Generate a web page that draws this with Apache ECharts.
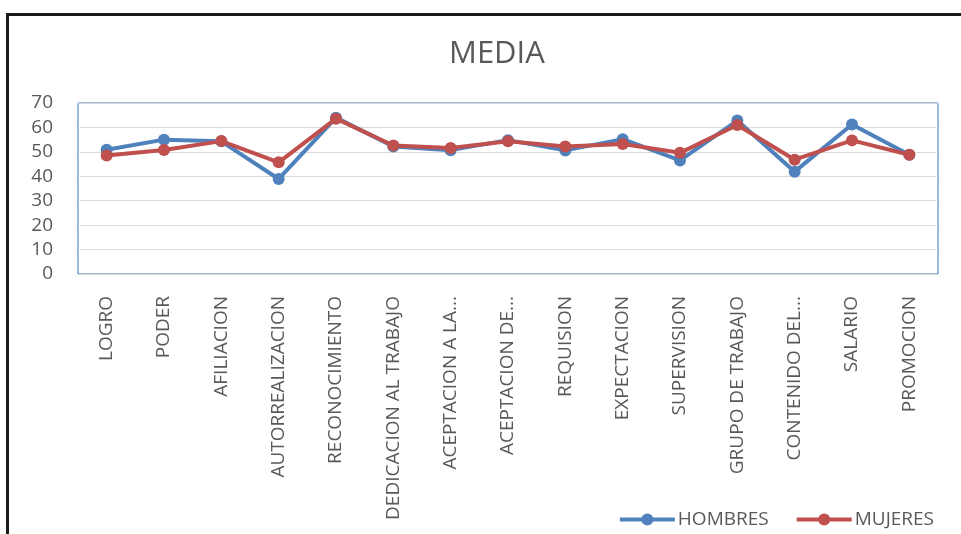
<!DOCTYPE html>
<html><head><meta charset="utf-8">
<script src="https://cdn.jsdelivr.net/npm/echarts@6/dist/echarts.min.js"></script>
<style>html,body{margin:0;padding:0;background:#fff}#c{width:961px;height:534px}</style>
</head><body><div id="c"></div>
<script>
const categories = ['LOGRO','PODER','AFILIACION','AUTORREALIZACION','RECONOCIMIENTO','DEDICACION AL TRABAJO','ACEPTACION A LA...','ACEPTACION DE...','REQUISION','EXPECTACION','SUPERVISION','GRUPO DE TRABAJO','CONTENIDO DEL...','SALARIO','PROMOCION'];
const hombres = [50.9, 55.0, 54.3, 38.9, 64.0, 52.2, 50.7, 54.8, 50.6, 55.2, 46.5, 62.8, 41.9, 61.2, 48.8];
const mujeres = [48.5, 50.8, 54.4, 45.7, 63.6, 52.6, 51.6, 54.3, 52.2, 53.2, 49.6, 61.0, 46.8, 54.7, 48.8];
const yTicks = [0, 10, 20, 30, 40, 50, 60, 70];

const chart = echarts.init(document.getElementById('c'));
const font = '"Open Sans", "Liberation Sans", sans-serif';
chart.setOption({
  animation: false,
  backgroundColor: '#fff',
  graphic: [{
    type: 'rect', left: 5, top: 12,
    shape: { width: 980, height: 540 },
    style: { fill: 'none', stroke: '#1a1a1a', lineWidth: 3 }
  }],
  title: {
    text: 'MEDIA', left: 444, top: 34,
    textStyle: { fontFamily: font, fontSize: 31, fontWeight: 'normal', color: '#595959' }
  },
  legend: {
    top: 505, right: 22, itemWidth: 55, itemHeight: 15, itemGap: 26,
    lineStyle: { width: 4 },
    textStyle: { fontFamily: font, fontSize: 19, color: '#595959', padding: [0, 0, 0, -2] },
    data: ['HOMBRES', 'MUJERES']
  },
  grid: {
    left: 78, right: 23, top: 103, bottom: 260,
    show: true, borderColor: '#2f7bc2', borderWidth: 1, backgroundColor: 'transparent'
  },
  xAxis: {
    type: 'category', data: categories, boundaryGap: true,
    axisLine: { show: true, lineStyle: { color: '#d9d9d9' } },
    axisTick: { show: false },
    axisLabel: { rotate: 90, fontFamily: font, fontSize: 19, color: '#595959', margin: 22, interval: 0 }
  },
  yAxis: {
    type: 'value', min: yTicks[0], max: yTicks[yTicks.length - 1], interval: 10,
    axisLine: { show: false }, axisTick: { show: false },
    splitLine: { lineStyle: { color: '#d9d9d9', width: 1 } },
    axisLabel: { fontFamily: font, fontSize: 19, color: '#595959', margin: 25 }
  },
  series: [
    { name: 'HOMBRES', type: 'line', data: hombres, symbol: 'circle', symbolSize: 12,
      lineStyle: { width: 4, color: '#4f81bd' }, itemStyle: { color: '#4f81bd' } },
    { name: 'MUJERES', type: 'line', data: mujeres, symbol: 'circle', symbolSize: 12,
      lineStyle: { width: 4, color: '#c0504d' }, itemStyle: { color: '#c0504d' } }
  ]
});
</script></body></html>
